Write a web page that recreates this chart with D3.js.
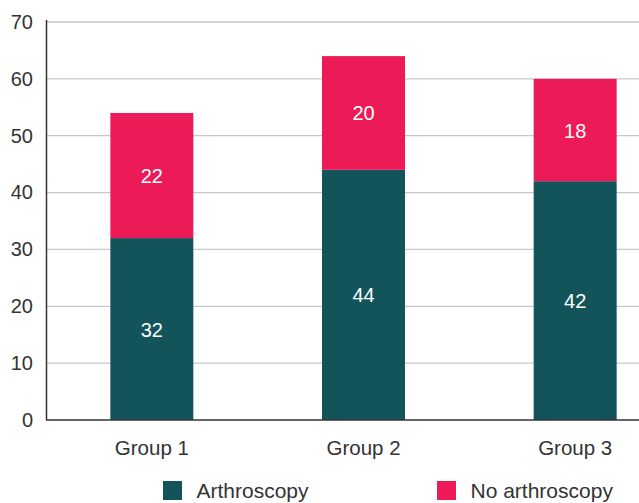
<!DOCTYPE html>
<html><head><meta charset="utf-8">
<script src="https://cdn.jsdelivr.net/npm/d3@7/dist/d3.min.js"></script>
<style>body{margin:0;background:#fff}svg{display:block}text{font-family:"Liberation Sans",Arial,sans-serif}</style>
</head><body>
<svg id="c" width="639" height="503"></svg>
<script>
const categories = ["Group 1", "Group 2", "Group 3"];
const arthroscopy = [32, 44, 42];
const noArthroscopy = [22, 20, 18];
const seriesNames = ["Arthroscopy", "No arthroscopy"];
const yTicks = [0, 10, 20, 30, 40, 50, 60, 70];
const colors = ["#12545a", "#ec1a57"];

const svg = d3.select("#c");
const x = d3.scaleBand().domain(categories).range([46, 681]).paddingInner(0.608).paddingOuter(0.304);
const y = d3.scaleLinear().domain([0, 70]).range([420, 22]);

// gridlines
svg.append("g").selectAll("line").data(yTicks.filter(d => d > 0)).join("line")
  .attr("x1", 46).attr("x2", 639).attr("y1", d => y(d)).attr("y2", d => y(d))
  .attr("stroke", "#c8c8c8").attr("stroke-width", 1.3);

// y axis
const yAxis = d3.axisLeft(y).tickValues(yTicks).tickSize(0).tickPadding(13);
const ya = svg.append("g").attr("transform", "translate(46,0)").call(yAxis);
ya.select(".domain").remove();
ya.selectAll("text").attr("font-size", 20).attr("fill", "#333");

const data = categories.map((c, i) => ({cat: c, vals: [arthroscopy[i], noArthroscopy[i]]}));
const stack = d3.stack().keys([0, 1]).value((d, k) => d.vals[k]);
const series = stack(data);

series.forEach((s, k) => {
  const g = svg.append("g");
  g.selectAll("rect").data(s).join("rect")
    .attr("x", d => x(d.data.cat)).attr("width", x.bandwidth())
    .attr("y", d => y(d[1])).attr("height", d => y(d[0]) - y(d[1]))
    .attr("fill", colors[k]);
  g.selectAll("text").data(s).join("text")
    .attr("x", d => x(d.data.cat) + x.bandwidth() / 2)
    .attr("y", d => y((d[0] + d[1]) / 2) + 7.5)
    .attr("text-anchor", "middle").attr("fill", "#fff").attr("font-size", 20)
    .text(d => d[1] - d[0]);
});

// axis lines
svg.append("line").attr("x1", 46.5).attr("x2", 46.5).attr("y1", 20).attr("y2", 420).attr("stroke", "#333").attr("stroke-width", 1.5);
const xAxis = d3.axisBottom(x).tickSize(0).tickPadding(20);
const xa = svg.append("g").attr("transform", "translate(0,420)").call(xAxis);
xa.select(".domain").remove();
xa.selectAll("text").attr("font-size", 20.5).attr("fill", "#333");
svg.append("line").attr("x1", 46).attr("x2", 639).attr("y1", 420).attr("y2", 420).attr("stroke", "#333").attr("stroke-width", 1.5);

// legend
const legendX = [163, 437];
const lg = svg.append("g").selectAll("g").data(seriesNames).join("g")
  .attr("transform", (d, i) => `translate(${legendX[i]},481)`);
lg.append("rect").attr("width", 19).attr("height", 19).attr("fill", (d, i) => colors[i]);
lg.append("text").attr("x", 33.5).attr("y", 16.5).attr("font-size", 21).attr("fill", "#333").text(d => d);
</script>
</body></html>
